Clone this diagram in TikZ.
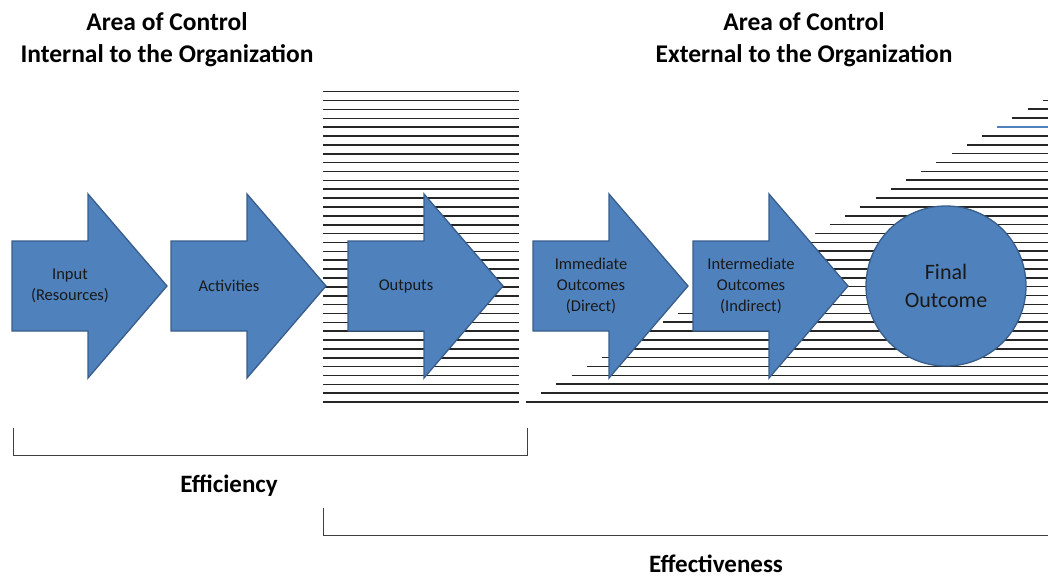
\documentclass[tikz,border=0pt]{standalone}
\usepackage{fontspec}
\setmainfont{Carlito}
\usepackage{tikz}
\usetikzlibrary{positioning}

\definecolor{officeblue}{HTML}{4F81BD}
\definecolor{officeline}{HTML}{385D8A}

% block arrow: tail x, name, text
\newcommand{\blockarrow}[3]{%
  \draw[arrow shape] (#1,241) -- ++(76,0) -- ++(0,-47) -- ++(79,92)
    -- ++(-79,92) -- ++(0,-47) -- ++(-76,0) -- cycle;
  \node[arrow text] (#2) at (#1+58,286) {#3};
}

\begin{document}
\begin{tikzpicture}[x=1pt,y=-1pt,
    arrow shape/.style={fill=officeblue,draw=officeline,line width=1.3pt,line join=miter},
    arrow text/.style={align=center,font=\fontsize{16.5}{21}\selectfont,text=black!90},
    title/.style={align=center,font=\fontsize{25.5}{32}\selectfont\bfseries},
    measure/.style={font=\fontsize{25}{28}\selectfont\bfseries},
    stripe/.style={line width=1.6pt,black!85},
    bracket/.style={line width=1pt,black!75}]

    \useasboundingbox (0,0) rectangle (1048,577);

    % headings
    \node[title] (internal) at (167,40) {Area of Control\\Internal to the Organization};
    \node[title] (external) at (804,40) {Area of Control\\External to the Organization};

    % hatched areas
    \foreach \i in {0,...,35}
        \draw[stripe] (323,91.7+\i*8.87) -- (519,91.7+\i*8.87);
    \foreach \i in {0,...,34}
        \draw[stripe] (526+\i*15.2,402-\i*8.87) -- (1048,402-\i*8.87);
    \draw[line width=1.6pt,officeblue] (526+31*15.2,402-31*8.87) -- (1048,402-31*8.87);

    % chain
    \blockarrow{12}{input}{Input\\(Resources)}
    \blockarrow{171}{activities}{Activities}
    \blockarrow{348}{outputs}{Outputs}
    \blockarrow{533}{immediate}{Immediate\\Outcomes\\(Direct)}
    \blockarrow{693}{intermediate}{Intermediate\\Outcomes\\(Indirect)}
    \node[circle,fill=officeblue,draw=officeline,line width=1.3pt,minimum size=160pt,
          align=center,font=\fontsize{22}{28}\selectfont,text=black!90] (final) at (946,286) {Final\\Outcome};

    % brackets
    \coordinate (effA) at (13,428);
    \coordinate (effB) at (527,428);
    \draw[bracket] (effA) -- (13,455) -- (527,455) -- (effB);
    \node[measure] (efficiency) at (229,486) {Efficiency};

    \coordinate (efvA) at (323,508);
    \draw[bracket] (efvA) -- (323,535) -- (1048,535);
    \node[measure] (effectiveness) at (716,564) {Effectiveness};

\end{tikzpicture}
\end{document}
